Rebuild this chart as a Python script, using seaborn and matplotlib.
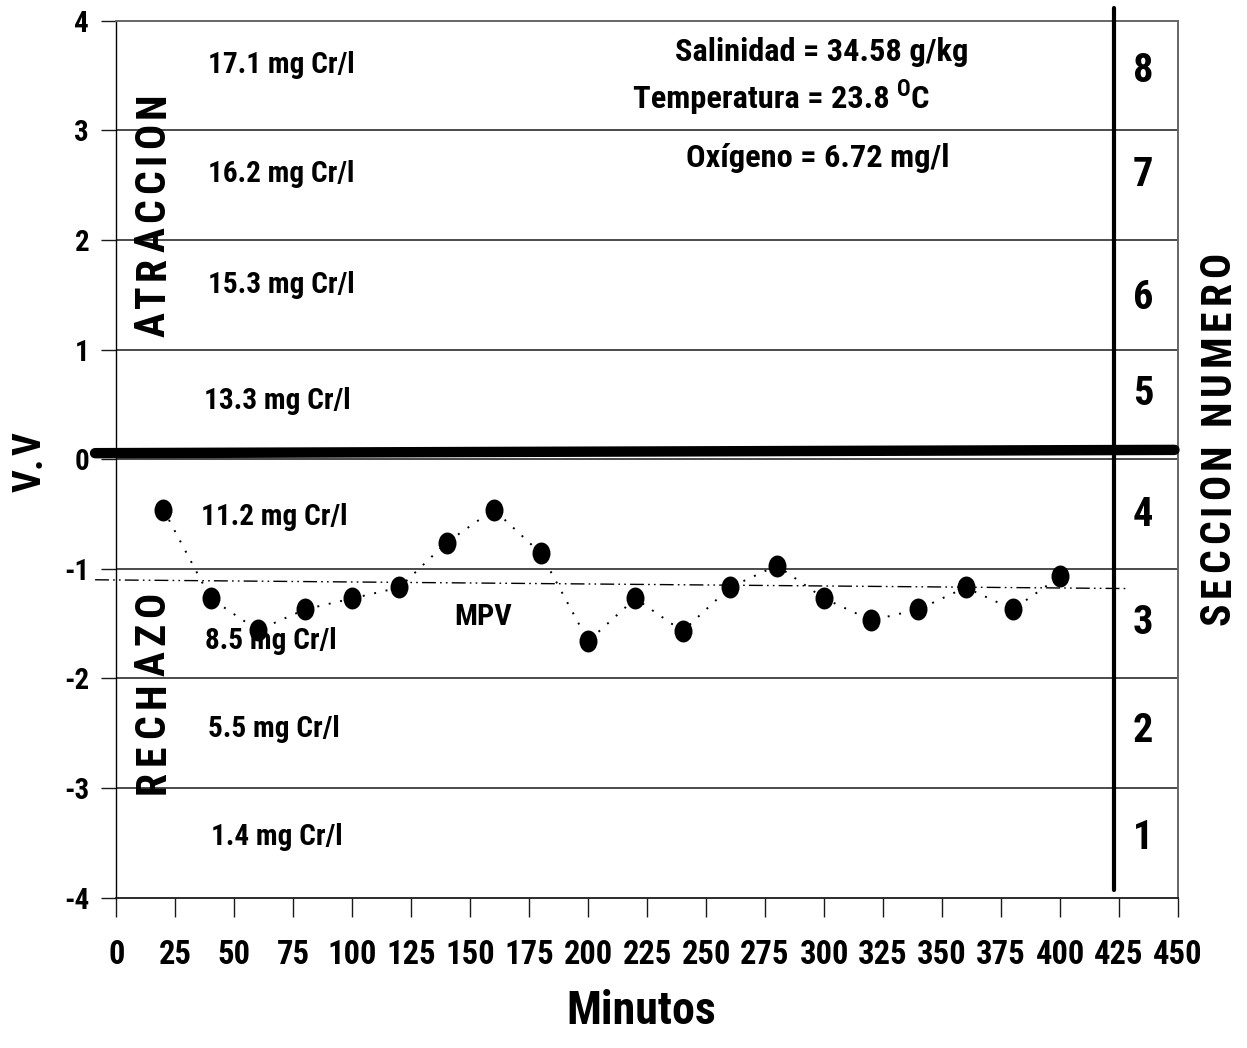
import os
import numpy as np
import matplotlib
matplotlib.use("Agg")
import matplotlib.pyplot as plt
import seaborn as sns
from matplotlib import font_manager
from matplotlib.font_manager import FontProperties
from matplotlib.path import Path
from matplotlib.textpath import TextToPath
from matplotlib.transforms import offset_copy

# ---- data -------------------------------------------------------------
minutos = [20, 40, 60, 80, 100, 120, 140, 160, 180, 200,
           220, 240, 260, 280, 300, 320, 340, 360, 380, 400]
vv = [-0.46, -1.27, -1.56, -1.37, -1.27, -1.17, -0.76, -0.46, -0.86, -1.66,
      -1.27, -1.57, -1.17, -0.97, -1.27, -1.47, -1.37, -1.17, -1.37, -1.07]

# mean preference value (MPV) trend
mpv_x = [-9, 429]
mpv_y = [-1.10, -1.18]

# neutral line between attraction and rejection
neutral_x = [-9, 448.5]
neutral_y = [0.055, 0.085]

# boundary of the section-number column
borde_x = [422.7, 422.7]
borde_y = [-3.93, 4.12]

x_ticks = list(range(0, 451, 25))
y_ticks = [-4, -3, -2, -1, 0, 1, 2, 3, 4]
grid_levels = [-3, -2, -1, 0, 1, 2, 3]

concentraciones = ["17.1 mg Cr/l", "16.2 mg Cr/l", "15.3 mg Cr/l", "13.3 mg Cr/l",
                   "11.2 mg Cr/l", "8.5 mg Cr/l", "5.5 mg Cr/l", "1.4 mg Cr/l"]
conc_x = [69.8, 69.8, 69.8, 68.2, 67.0, 65.3, 66.9, 68.2]
conc_y = [3.525, 2.533, 1.517, 0.46, -0.60, -1.73, -2.53, -3.52]

secciones = ["8", "7", "6", "5", "4", "3", "2", "1"]
secc_y = [3.44, 2.49, 1.37, 0.49, -0.61, -1.59, -2.58, -3.56]
secc_x = 435.2

# ---- fonts ----------------------------------------------------------------
sns.set_style("ticks")
plt.rcParams["text.color"] = "black"
plt.rcParams["axes.labelcolor"] = "black"
plt.rcParams["xtick.color"] = "black"
plt.rcParams["ytick.color"] = "black"

_ttf = font_manager.fontManager.ttflist


def _by_basename(names):
    for n in names:
        for fe in _ttf:
            if os.path.basename(fe.fname).lower() == n.lower():
                return fe.fname
    return None


def _weight(fe):
    w = fe.weight
    if isinstance(w, str):
        return {"bold": 700, "semibold": 600, "demibold": 600, "heavy": 800,
                "extra bold": 800, "black": 900}.get(w, 400)
    return w


def _is_narrow(fe):
    return (fe.stretch in ("condensed", "semi-condensed", "extra-condensed")
            or "Narrow" in fe.name or "Condensed" in fe.name)


_preferred = ["Liberation Sans Narrow", "Arial Narrow", "Roboto Condensed",
              "Roboto", "Noto Sans", "Open Sans Condensed", "Open Sans",
              "DejaVu Sans"]
_stretch_rank = {"condensed": 0, "semi-condensed": 1, "extra-condensed": 2}
_narrow_bold = [fe for fe in _ttf
                if _weight(fe) >= 600 and _is_narrow(fe)
                and "Mono" not in fe.name and "Serif" not in fe.name
                and "CJK" not in fe.name
                and "Italic" not in fe.fname and "Oblique" not in fe.fname
                and fe.style == "normal"]
_narrow_bold.sort(key=lambda fe: (_preferred.index(fe.name) if fe.name in _preferred
                                  else len(_preferred),
                                  _stretch_rank.get(fe.stretch, 0),
                                  abs(_weight(fe) - 700), fe.fname))

NARROW_FILE = _by_basename(["LiberationSansNarrow-Bold.ttf", "ARIALNB.TTF",
                            "ArialNarrow-Bold.ttf"])
if NARROW_FILE is None:
    NARROW_FILE = (_narrow_bold[0].fname if _narrow_bold else
                   font_manager.findfont(FontProperties(family="Liberation Sans",
                                                        weight="bold")))

ttp = TextToPath()


def ink_width_px(text, prop):
    w, h, d = ttp.get_text_width_height_descent(text, prop, ismath=False)
    return w * 100 / 72


def size_for(text, width_px, cap_px, fname=None):
    """Font size balancing the printed width and the capital height."""
    fname = fname or NARROW_FILE
    w = ink_width_px(text, FontProperties(fname=fname, size=20))
    s_w = 20 * width_px / w
    s_h = cap_px * 1.0
    return float(s_w ** 0.4 * s_h ** 0.6)


def nfont(size):
    return FontProperties(fname=NARROW_FILE, size=size)


fs_xtick = size_for("100", 45, 25)
fs_ytick = size_for("-4", 25, 21)
fs_conc = size_for("17.1 mg Cr/l", 142, 21.5)
fs_secc = size_for("8", 21.7, 28)
fs_info = size_for("Salinidad = 34.58 g/kg", 285, 23.7)
fs_mpv = size_for("MPV", 53, 23)
fs_xlabel = size_for("Minutos", 158, 32)

# ---- figure -------------------------------------------------------------
W, H = 1247, 1048
fig = plt.figure(figsize=(W / 100, H / 100), dpi=100)
L, R, T, B = 116.3, 1178.0, 20.7, 897.7
ax = fig.add_axes([L / W, 1 - B / H, (R - L) / W, (B - T) / H])

ax.set_xlim(0, 450)
ax.set_ylim(-4, 4)

# horizontal section borders
for lv in grid_levels:
    ax.axhline(lv, color="#1a1a1a", lw=1.1, zorder=1)

# data series: dotted line with filled (slightly tall) circles
circ = Path.unit_circle()
ellipse = Path(circ.vertices * np.array([0.82, 1.0]), circ.codes)
sns.lineplot(x=minutos, y=vv, ax=ax, color="black", lw=1.4,
             linestyle=(0, (1, 5)), marker=ellipse, markersize=15.8,
             markeredgewidth=0, markerfacecolor="black", errorbar=None,
             zorder=4)

# MPV trend line (dash-dot-dot)
ax.plot(mpv_x, mpv_y, color="black", lw=1.0,
        linestyle=(0, (10, 3, 1.2, 3, 1.2, 3)), clip_on=False, zorder=3)

# thick neutral line
ax.plot(neutral_x, neutral_y, color="black", lw=7.5, solid_capstyle="round",
        clip_on=False, zorder=5)

# vertical separator for section numbers
ax.plot(borde_x, borde_y, color="black", lw=3.0, solid_capstyle="round",
        clip_on=False, zorder=5)

# spines and ticks
for side in ["top", "right"]:
    ax.spines[side].set_color("#666666")
    ax.spines[side].set_linewidth(1.4)
ax.spines["left"].set_color("black")
ax.spines["left"].set_linewidth(1.0)
ax.spines["bottom"].set_color("#1a1a1a")
ax.spines["bottom"].set_linewidth(1.3)

ax.set_xticks(x_ticks)
ax.set_xticklabels([str(v) for v in x_ticks], fontproperties=nfont(fs_xtick))
ax.set_yticks(y_ticks)
ax.set_yticklabels([str(v) for v in y_ticks], fontproperties=nfont(fs_ytick))
ax.tick_params(axis="x", direction="out", length=13.7, width=1.0,
               color="#1a1a1a", pad=16)
ax.tick_params(axis="y", direction="out", length=10.5, width=1.0,
               color="#1a1a1a", pad=9)

ax.set_xlabel("Minutos", fontproperties=nfont(fs_xlabel))
ax.xaxis.label.set_va("center")
ax.xaxis.set_label_coords((641 - L) / (R - L), (B - 1011) / (B - T))

# concentration labels per section
for txt, cx, cy in zip(concentraciones, conc_x, conc_y):
    ax.text(cx, cy, txt, ha="center", va="baseline",
            fontproperties=nfont(fs_conc), zorder=6)

# section numbers
for txt, cy in zip(secciones, secc_y):
    ax.text(secc_x, cy, txt, ha="center", va="baseline",
            fontproperties=nfont(fs_secc), zorder=6)

# experimental conditions
ax.text(298.9, 3.63, "Salinidad = 34.58 g/kg", ha="center", va="baseline",
        fontproperties=nfont(fs_info))
t_temp = ax.text(219.0, 3.20, "Temperatura = 23.8", ha="left", va="baseline",
                 fontproperties=nfont(fs_info))
t_sup = ax.annotate("O", xy=(1, 0), xycoords=t_temp, xytext=(5, 10),
                    textcoords="offset points", ha="left", va="bottom",
                    fontproperties=nfont(fs_info * 0.7))
ax.annotate("C", xy=(1, 0), xycoords=t_sup, xytext=(0, -10),
            textcoords="offset points", ha="left", va="bottom",
            fontproperties=nfont(fs_info))
ax.text(297.2, 2.67, "Oxígeno = 6.72 mg/l", ha="center", va="baseline",
        fontproperties=nfont(fs_info))
ax.text(155.6, -1.51, "MPV", ha="center", va="baseline",
        fontproperties=nfont(fs_mpv), zorder=6)


# letter-spaced vertical labels: size from the capital height,
# spacing stretched to the given length
def spaced_vertical(xpx, ypx, s, fname, cap_px, length_px, space_px):
    size = cap_px * 1.0
    prop = FontProperties(fname=fname, size=size)
    widths = [space_px if ch == " " else ink_width_px(ch, prop) for ch in s]
    track = (length_px - sum(widths)) / (len(s) - 1)
    if track < 1.5:
        scale = (length_px - 1.5 * (len(s) - 1)) / sum(widths)
        prop = FontProperties(fname=fname, size=size * scale)
        widths = [space_px if ch == " " else ink_width_px(ch, prop) for ch in s]
        track = 1.5
    total = sum(widths) + track * (len(s) - 1)
    pos = -total / 2
    for ch, w in zip(s, widths):
        c = (pos + w / 2) * 72 / 100
        if ch != " ":
            tr = offset_copy(fig.transFigure, fig=fig, x=0, y=c, units="points")
            fig.text(xpx / W, 1 - ypx / H, ch, transform=tr, rotation=90,
                     ha="center", va="center", fontproperties=prop, zorder=2)
        pos += w + track


spaced_vertical(153, 215, "ATRACCION", NARROW_FILE, 30, 245, 8)
spaced_vertical(153, 693, "RECHAZO", NARROW_FILE, 30, 202, 8)
spaced_vertical(1218, 438, "SECCION NUMERO", NARROW_FILE, 30, 373, 9)
spaced_vertical(30, 462, "V.V", NARROW_FILE, 31, 60, 8)

fig.savefig("out.png", dpi=100)
